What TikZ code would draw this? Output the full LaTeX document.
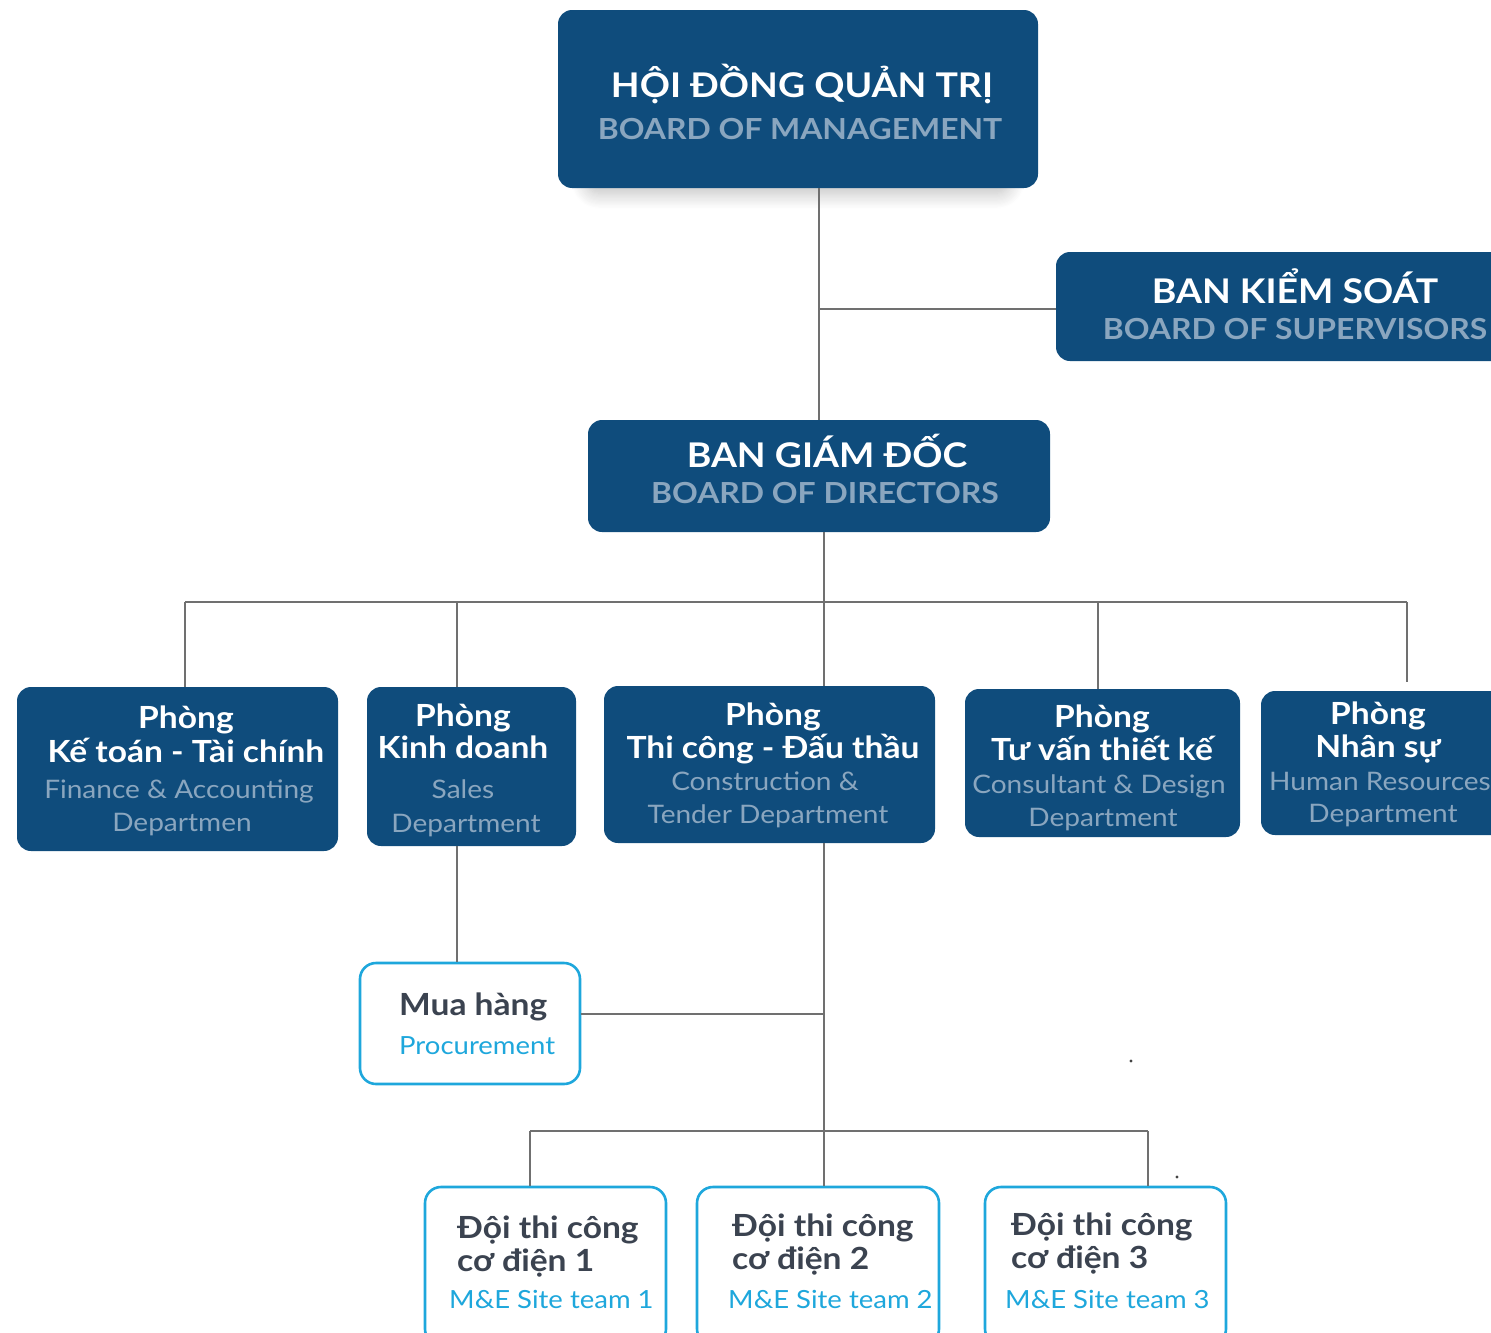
\documentclass[tikz,border=0pt]{standalone}
\usepackage{fontspec}
\setmainfont{Lato}[FakeStretch=1.1]
\usetikzlibrary{shadows.blur}
\definecolor{navy}{HTML}{0F4C7C}
\definecolor{subc}{HTML}{8AA6BF}
\definecolor{conn}{HTML}{707070}
\definecolor{cyanb}{HTML}{1EA7DC}
\definecolor{darkt}{HTML}{3B4350}
\tikzset{
  navybox/.style={fill=navy, draw=none, rounded corners=14pt, inner sep=0pt},
  whitebox/.style={fill=white, draw=cyanb, line width=2.6pt, rounded corners=16pt, inner sep=0pt},
  conline/.style={draw=conn, line width=1.3pt},
  txt/.style={anchor=base, inner sep=0pt},
  bigtitle/.style={txt, text=white, font=\bfseries\fontsize{34}{38}\selectfont},
  bigsub/.style={txt, text=subc, font=\bfseries\fontsize{29}{32}\selectfont},
  depttitle/.style={txt, text=white, font=\bfseries\fontsize{30.5}{33}\selectfont},
  deptsub/.style={txt, text=subc, font=\fontsize{25.5}{28}\selectfont},
  teamtitle/.style={txt, text=darkt, font=\bfseries\fontsize{30.5}{33}\selectfont},
  teamsub/.style={txt, text=cyanb, font=\fontsize{25}{28}\selectfont},
}
\begin{document}
\begin{tikzpicture}[x=1pt,y=-1pt]
\useasboundingbox (0,0) rectangle (1491,1333);
\clip (0,0) rectangle (1491,1333);

% ---------- boxes ----------
\node[navybox, minimum width=480pt, minimum height=178pt,
  blur shadow={shadow xshift=0pt, shadow yshift=-18pt, shadow scale=0.88, shadow opacity=26, shadow blur radius=18pt, shadow blur steps=14}]
  (hdqt) at (798,99) {};
\node[navybox, minimum width=454pt, minimum height=109pt] (bks) at (1283,306.5) {};
\node[navybox, minimum width=462pt, minimum height=112pt] (bgd) at (819,476) {};
\node[navybox, minimum width=321pt, minimum height=164pt] (d1) at (177.5,769) {};
\node[navybox, minimum width=209pt, minimum height=159pt] (d2) at (471.5,766.5) {};
\node[navybox, minimum width=331pt, minimum height=157pt] (d3) at (769.5,764.5) {};
\node[navybox, minimum width=275pt, minimum height=148pt] (d4) at (1102.5,763) {};
\node[navybox, minimum width=249pt, minimum height=144pt] (d5) at (1385.5,763) {};
\node[whitebox, minimum width=220pt, minimum height=121pt] (mh) at (470,1023.5) {};
\node[whitebox, minimum width=241pt, minimum height=158pt] (t1) at (545.5,1266) {};
\node[whitebox, minimum width=242pt, minimum height=158pt] (t2) at (818,1266) {};
\node[whitebox, minimum width=241pt, minimum height=158pt] (t3) at (1105.5,1266) {};

% ---------- connectors ----------
\coordinate (j1) at (819,309);
\draw[conline] (hdqt.south -| j1) -- (bgd.north -| j1);
\draw[conline] (j1) -- (bks.west |- j1);

\coordinate (bus) at (824,602);
\coordinate (b1) at (185,602);
\coordinate (b2) at (457,602);
\coordinate (b4) at (1098,602);
\coordinate (b5) at (1407,602);
\draw[conline] (bgd.south -| bus) -- (bus);
\draw[conline] (b1) -- (b5);
\draw[conline] (b1) -- (d1.north -| b1);
\draw[conline] (b2) -- (d2.north -| b2);
\draw[conline] (bus) -- (d3.north -| bus);
\draw[conline] (b4) -- (d4.north -| b4);
\draw[conline] (b5) -- (1407,682);

\draw[conline] (d2.south -| b2) -- (mh.north -| b2);

\coordinate (m1) at (824,1014);
\coordinate (bus2) at (824,1131);
\coordinate (c1) at (530,1131);
\coordinate (c3) at (1148,1131);
\draw[conline] (mh.east |- m1) -- (m1);
\draw[conline] (d3.south -| bus2) -- (bus2);
\draw[conline] (c1) -- (c3);
\draw[conline] (c1) -- (t1.north -| c1);
\draw[conline] (bus2) -- (t2.north -| bus2);
\draw[conline] (c3) -- (t3.north -| c3);

\fill[conn!60!black] (1131,1061) circle (1.6pt);
\fill[conn!60!black] (1177,1177) circle (1.6pt);

% ---------- texts ----------
\node[bigtitle] (hdqt-a) at (802,97) {HỘI ĐỒNG QUẢN TRỊ};
\node[bigsub]   (hdqt-b) at (800,139) {BOARD OF MANAGEMENT};
\node[bigtitle] (bks-a) at (1295,303) {BAN KIỂM SOÁT};
\node[bigsub]   (bks-b) at (1295,339) {BOARD OF SUPERVISORS};
\node[bigtitle] (bgd-a) at (827,467) {BAN GIÁM ĐỐC};
\node[bigsub]   (bgd-b) at (825,503) {BOARD OF DIRECTORS};

\node[depttitle] (d1-a) at (186,728) {Phòng};
\node[depttitle] (d1-b) at (186,762) {Kế toán - Tài chính};
\node[deptsub]   (d1-c) at (179,798) {Finance \& Accounting};
\node[deptsub]   (d1-d) at (182,831) {Departmen};

\node[depttitle] (d2-a) at (463,726) {Phòng};
\node[depttitle] (d2-b) at (463,758) {Kinh doanh};
\node[deptsub]   (d2-c) at (463,798) {Sales};
\node[deptsub]   (d2-d) at (466,832) {Department};

\node[depttitle] (d3-a) at (773,725) {Phòng};
\node[depttitle] (d3-b) at (773,758) {Thi công - Đấu thầu};
\node[deptsub]   (d3-c) at (765,790) {Construction \&};
\node[deptsub]   (d3-d) at (768,823) {Tender Department};

\node[depttitle] (d4-a) at (1102,727) {Phòng};
\node[depttitle] (d4-b) at (1102,760) {Tư vấn thiết kế};
\node[deptsub]   (d4-c) at (1099,793) {Consultant \& Design};
\node[deptsub]   (d4-d) at (1103,826) {Department};

\node[depttitle] (d5-a) at (1378,724) {Phòng};
\node[depttitle] (d5-b) at (1378,757) {Nhân sự};
\node[deptsub]   (d5-c) at (1380,790) {Human Resources};
\node[deptsub]   (d5-d) at (1383,822) {Department};

\node[teamtitle, anchor=base west] (mh-a) at (399,1015) {Mua hàng};
\node[teamsub, anchor=base west]   (mh-b) at (399,1054) {Procurement};

\node[teamtitle, anchor=base west] (t1-a) at (457,1238) {Đội thi công};
\node[teamtitle, anchor=base west] (t1-b) at (457,1271) {cơ điện 1};
\node[teamsub, anchor=base west]   (t1-c) at (449,1308) {M\&E Site team 1};

\node[teamtitle, anchor=base west] (t2-a) at (732,1236) {Đội thi công};
\node[teamtitle, anchor=base west] (t2-b) at (732,1269) {cơ điện 2};
\node[teamsub, anchor=base west]   (t2-c) at (728,1308) {M\&E Site team 2};

\node[teamtitle, anchor=base west] (t3-a) at (1011,1235) {Đội thi công};
\node[teamtitle, anchor=base west] (t3-b) at (1011,1268) {cơ điện 3};
\node[teamsub, anchor=base west]   (t3-c) at (1005,1308) {M\&E Site team 3};
\end{tikzpicture}
\end{document}
